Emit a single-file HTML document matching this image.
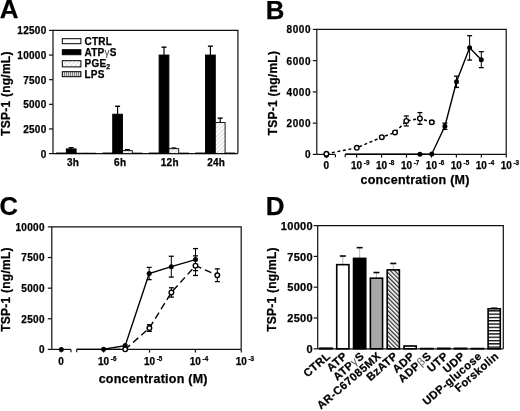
<!DOCTYPE html>
<html><head><meta charset="utf-8"><style>
html,body{margin:0;padding:0;background:#fff;width:520px;height:411px;overflow:hidden}
svg{display:block;will-change:transform}
text{stroke:#000;stroke-width:0.25px}
</style></head><body>
<svg width="520" height="411" viewBox="0 0 520 411" font-family="Liberation Sans, sans-serif" font-weight="bold">
<defs>
<pattern id="hatchA" patternUnits="userSpaceOnUse" width="3" height="3" patternTransform="rotate(45)">
<rect width="3" height="3" fill="#fff"/><line x1="0" y1="0" x2="0" y2="3" stroke="#999" stroke-width="0.8"/></pattern>
<pattern id="dotsA" patternUnits="userSpaceOnUse" width="2" height="2">
<rect width="2" height="2" fill="#f4f4f4"/><rect width="1" height="1" fill="#bbb"/></pattern>
<pattern id="vlines" patternUnits="userSpaceOnUse" width="2" height="2">
<rect width="2" height="2" fill="#ddd"/><rect width="1" height="2" fill="#888"/></pattern>
<pattern id="hatchD" patternUnits="userSpaceOnUse" width="3" height="3" patternTransform="rotate(-45)">
<rect width="3" height="3" fill="#fff"/><line x1="0.7" y1="0" x2="0.7" y2="3" stroke="#000" stroke-width="1.05"/></pattern>
<pattern id="dotsD" patternUnits="userSpaceOnUse" width="2" height="2">
<rect width="2" height="2" fill="#fff"/><rect width="1" height="1" fill="#666"/></pattern>
<pattern id="hlines" patternUnits="userSpaceOnUse" width="4" height="3.3">
<rect width="4" height="3.3" fill="#fff"/><rect width="4" height="1.3" fill="#000"/></pattern>
</defs>
<rect width="520" height="411" fill="#fff"/>
<text x="-0.20" y="18.20" font-size="26" text-anchor="start" >A</text>
<path d="M53.00,153.60 V30.40 H237.90 V153.60" stroke="#111" stroke-width="1.2" fill="none"/>
<line x1="53.00" y1="153.60" x2="237.90" y2="153.60" stroke="#111" stroke-width="1.2" />
<line x1="49.00" y1="153.60" x2="53.00" y2="153.60" stroke="#111" stroke-width="1.2" />
<text x="46.60" y="157.50" font-size="10" text-anchor="end" letter-spacing="0.3">0</text>
<line x1="49.00" y1="128.96" x2="53.00" y2="128.96" stroke="#111" stroke-width="1.2" />
<text x="46.60" y="132.86" font-size="10" text-anchor="end" letter-spacing="0.3">2500</text>
<line x1="49.00" y1="104.32" x2="53.00" y2="104.32" stroke="#111" stroke-width="1.2" />
<text x="46.60" y="108.22" font-size="10" text-anchor="end" letter-spacing="0.3">5000</text>
<line x1="49.00" y1="79.68" x2="53.00" y2="79.68" stroke="#111" stroke-width="1.2" />
<text x="46.60" y="83.58" font-size="10" text-anchor="end" letter-spacing="0.3">7500</text>
<line x1="49.00" y1="55.04" x2="53.00" y2="55.04" stroke="#111" stroke-width="1.2" />
<text x="46.60" y="58.94" font-size="10" text-anchor="end" letter-spacing="0.3">10000</text>
<line x1="49.00" y1="30.40" x2="53.00" y2="30.40" stroke="#111" stroke-width="1.2" />
<text x="46.60" y="34.30" font-size="10" text-anchor="end" letter-spacing="0.3">12500</text>
<text transform="translate(9.80,93.62) rotate(-90)" font-size="12.0" letter-spacing="0.25" text-anchor="middle">TSP-1 (ng/mL)</text>
<rect x="56.50" y="153.01" width="9.80" height="0.59" fill="#fff" stroke="#000" stroke-width="0.9"/>
<line x1="71.20" y1="147.69" x2="71.20" y2="148.87" stroke="#000" stroke-width="1.2" />
<line x1="68.70" y1="147.69" x2="73.70" y2="147.69" stroke="#000" stroke-width="1.4" />
<rect x="66.30" y="148.87" width="9.80" height="4.73" fill="#000" stroke="#000" stroke-width="0.9"/>
<rect x="76.10" y="153.21" width="9.80" height="0.39" fill="url(#hatchA)" stroke="#000" stroke-width="0.9"/>
<rect x="85.90" y="153.21" width="9.80" height="0.39" fill="url(#vlines)" stroke="#000" stroke-width="0.9"/>
<rect x="102.90" y="153.01" width="9.80" height="0.59" fill="#fff" stroke="#000" stroke-width="0.9"/>
<line x1="117.60" y1="106.29" x2="117.60" y2="114.18" stroke="#000" stroke-width="1.2" />
<line x1="115.10" y1="106.29" x2="120.10" y2="106.29" stroke="#000" stroke-width="1.4" />
<rect x="112.70" y="114.18" width="9.80" height="39.42" fill="#000" stroke="#000" stroke-width="0.9"/>
<line x1="127.40" y1="149.66" x2="127.40" y2="150.64" stroke="#000" stroke-width="1.2" />
<line x1="124.90" y1="149.66" x2="129.90" y2="149.66" stroke="#000" stroke-width="1.4" />
<rect x="122.50" y="150.64" width="9.80" height="2.96" fill="url(#hatchA)" stroke="#000" stroke-width="0.9"/>
<rect x="132.30" y="153.11" width="9.80" height="0.49" fill="url(#vlines)" stroke="#000" stroke-width="0.9"/>
<rect x="149.30" y="153.01" width="9.80" height="0.59" fill="#fff" stroke="#000" stroke-width="0.9"/>
<line x1="164.00" y1="47.16" x2="164.00" y2="55.04" stroke="#000" stroke-width="1.2" />
<line x1="161.50" y1="47.16" x2="166.50" y2="47.16" stroke="#000" stroke-width="1.4" />
<rect x="159.10" y="55.04" width="9.80" height="98.56" fill="#000" stroke="#000" stroke-width="0.9"/>
<line x1="173.80" y1="148.08" x2="173.80" y2="148.67" stroke="#000" stroke-width="1.2" />
<line x1="171.30" y1="148.08" x2="176.30" y2="148.08" stroke="#000" stroke-width="1.4" />
<rect x="168.90" y="148.67" width="9.80" height="4.93" fill="url(#hatchA)" stroke="#000" stroke-width="0.9"/>
<rect x="178.70" y="153.11" width="9.80" height="0.49" fill="url(#vlines)" stroke="#000" stroke-width="0.9"/>
<rect x="195.70" y="153.01" width="9.80" height="0.59" fill="#fff" stroke="#000" stroke-width="0.9"/>
<line x1="210.40" y1="46.17" x2="210.40" y2="55.04" stroke="#000" stroke-width="1.2" />
<line x1="207.90" y1="46.17" x2="212.90" y2="46.17" stroke="#000" stroke-width="1.4" />
<rect x="205.50" y="55.04" width="9.80" height="98.56" fill="#000" stroke="#000" stroke-width="0.9"/>
<line x1="220.20" y1="118.12" x2="220.20" y2="122.55" stroke="#000" stroke-width="1.2" />
<line x1="217.70" y1="118.12" x2="222.70" y2="118.12" stroke="#000" stroke-width="1.4" />
<rect x="215.30" y="122.55" width="9.80" height="31.05" fill="url(#hatchA)" stroke="#000" stroke-width="0.9"/>
<rect x="225.10" y="153.01" width="9.80" height="0.59" fill="url(#vlines)" stroke="#000" stroke-width="0.9"/>
<text x="73.10" y="166.30" font-size="10" text-anchor="middle" letter-spacing="0.3">3h</text>
<text x="120.20" y="166.30" font-size="10" text-anchor="middle" letter-spacing="0.3">6h</text>
<text x="169.80" y="166.30" font-size="10" text-anchor="middle" letter-spacing="0.3">12h</text>
<text x="216.20" y="166.30" font-size="10" text-anchor="middle" letter-spacing="0.3">24h</text>
<rect x="62.30" y="38.70" width="18.60" height="5.00" fill="#fff" stroke="#000" stroke-width="1"/>
<text x="84.50" y="44.80" font-size="10" text-anchor="start" letter-spacing="0.22">CTRL</text>
<rect x="62.30" y="49.70" width="18.60" height="5.00" fill="#000" stroke="#000" stroke-width="1"/>
<text x="84.50" y="55.80" font-size="10" text-anchor="start" letter-spacing="0.22">ATP<tspan font-weight="normal" fill="#444" stroke="none">&#947;</tspan>S</text>
<rect x="62.30" y="60.70" width="18.60" height="6.20" fill="url(#hatchA)" stroke="#000" stroke-width="1"/>
<text x="84.50" y="66.80" font-size="10" text-anchor="start" letter-spacing="0.22">PGE<tspan font-size="7" dy="2.5">2</tspan></text>
<rect x="62.30" y="71.70" width="18.60" height="5.00" fill="url(#vlines)" stroke="#000" stroke-width="1"/>
<text x="84.50" y="77.80" font-size="10" text-anchor="start" letter-spacing="0.22">LPS</text>
<text x="265.80" y="18.90" font-size="25.8" text-anchor="start" >B</text>
<path d="M316.8,154.4 V29.4 H506.2 V154.4" stroke="#111" stroke-width="1.2" fill="none"/>
<line x1="316.80" y1="154.40" x2="335.40" y2="154.40" stroke="#111" stroke-width="1.2" />
<line x1="345.20" y1="154.40" x2="506.20" y2="154.40" stroke="#111" stroke-width="1.2" />
<line x1="335.40" y1="154.40" x2="335.40" y2="157.20" stroke="#111" stroke-width="1.2" />
<line x1="345.20" y1="154.40" x2="345.20" y2="157.20" stroke="#111" stroke-width="1.2" />
<line x1="312.80" y1="154.40" x2="316.80" y2="154.40" stroke="#111" stroke-width="1.2" />
<text x="311.05" y="158.30" font-size="10" text-anchor="end" letter-spacing="0.55">0</text>
<line x1="312.80" y1="123.15" x2="316.80" y2="123.15" stroke="#111" stroke-width="1.2" />
<text x="311.05" y="127.05" font-size="10" text-anchor="end" letter-spacing="0.55">2000</text>
<line x1="312.80" y1="91.90" x2="316.80" y2="91.90" stroke="#111" stroke-width="1.2" />
<text x="311.05" y="95.80" font-size="10" text-anchor="end" letter-spacing="0.55">4000</text>
<line x1="312.80" y1="60.65" x2="316.80" y2="60.65" stroke="#111" stroke-width="1.2" />
<text x="311.05" y="64.55" font-size="10" text-anchor="end" letter-spacing="0.55">6000</text>
<line x1="312.80" y1="29.40" x2="316.80" y2="29.40" stroke="#111" stroke-width="1.2" />
<text x="311.05" y="33.30" font-size="10" text-anchor="end" letter-spacing="0.55">8000</text>
<text transform="translate(277.30,93.12) rotate(-90)" font-size="12.0" letter-spacing="0.25" text-anchor="middle">TSP-1 (ng/mL)</text>
<line x1="326.40" y1="154.40" x2="326.40" y2="157.40" stroke="#111" stroke-width="1.2" />
<text x="326.40" y="168.80" font-size="10" text-anchor="middle" >0</text>
<line x1="356.60" y1="154.40" x2="356.60" y2="157.60" stroke="#111" stroke-width="1.2" />
<text x="351.00" y="168.80" font-size="10" text-anchor="start" >10</text>
<text x="363.80" y="164.60" font-size="6.3" text-anchor="start" >-9</text>
<line x1="381.55" y1="154.40" x2="381.55" y2="157.60" stroke="#111" stroke-width="1.2" />
<text x="375.95" y="168.80" font-size="10" text-anchor="start" >10</text>
<text x="388.75" y="164.60" font-size="6.3" text-anchor="start" >-8</text>
<line x1="406.50" y1="154.40" x2="406.50" y2="157.60" stroke="#111" stroke-width="1.2" />
<text x="400.90" y="168.80" font-size="10" text-anchor="start" >10</text>
<text x="413.70" y="164.60" font-size="6.3" text-anchor="start" >-7</text>
<line x1="431.45" y1="154.40" x2="431.45" y2="157.60" stroke="#111" stroke-width="1.2" />
<text x="425.85" y="168.80" font-size="10" text-anchor="start" >10</text>
<text x="438.65" y="164.60" font-size="6.3" text-anchor="start" >-6</text>
<line x1="456.40" y1="154.40" x2="456.40" y2="157.60" stroke="#111" stroke-width="1.2" />
<text x="450.80" y="168.80" font-size="10" text-anchor="start" >10</text>
<text x="463.60" y="164.60" font-size="6.3" text-anchor="start" >-5</text>
<line x1="481.35" y1="154.40" x2="481.35" y2="157.60" stroke="#111" stroke-width="1.2" />
<text x="475.75" y="168.80" font-size="10" text-anchor="start" >10</text>
<text x="488.55" y="164.60" font-size="6.3" text-anchor="start" >-4</text>
<line x1="506.30" y1="154.40" x2="506.30" y2="157.60" stroke="#111" stroke-width="1.2" />
<text x="500.70" y="168.80" font-size="10" text-anchor="start" >10</text>
<text x="513.50" y="164.60" font-size="6.3" text-anchor="start" >-3</text>
<text x="415.10" y="183.80" font-size="12.5" text-anchor="middle" letter-spacing="0.25">concentration (M)</text>
<polyline points="326.40,153.78 356.80,147.81 381.80,137.21 395.00,132.43 406.30,120.96 419.90,118.46 431.80,122.24" fill="none" stroke="#000" stroke-width="1.5" stroke-dasharray="3,2.6"/>
<polyline points="345.20,154.24 419.90,154.24 431.80,153.93 444.90,126.28 456.50,81.82 469.60,47.87 481.30,59.65" fill="none" stroke="#000" stroke-width="1.4"/>
<circle cx="326.40" cy="155.20" r="2.5" fill="#000"/>
<circle cx="419.90" cy="154.24" r="2.5" fill="#000"/>
<circle cx="431.80" cy="153.93" r="2.5" fill="#000"/>
<line x1="444.90" y1="123.15" x2="444.90" y2="129.40" stroke="#000" stroke-width="1.0" />
<line x1="442.40" y1="123.15" x2="447.40" y2="123.15" stroke="#000" stroke-width="1.3" />
<line x1="442.40" y1="129.40" x2="447.40" y2="129.40" stroke="#000" stroke-width="1.3" />
<circle cx="444.90" cy="126.28" r="2.5" fill="#000"/>
<line x1="456.50" y1="76.20" x2="456.50" y2="87.45" stroke="#000" stroke-width="1.0" />
<line x1="454.00" y1="76.20" x2="459.00" y2="76.20" stroke="#000" stroke-width="1.3" />
<line x1="454.00" y1="87.45" x2="459.00" y2="87.45" stroke="#000" stroke-width="1.3" />
<circle cx="456.50" cy="81.82" r="2.5" fill="#000"/>
<line x1="469.60" y1="35.68" x2="469.60" y2="60.06" stroke="#000" stroke-width="1.0" />
<line x1="467.10" y1="35.68" x2="472.10" y2="35.68" stroke="#000" stroke-width="1.3" />
<line x1="467.10" y1="60.06" x2="472.10" y2="60.06" stroke="#000" stroke-width="1.3" />
<circle cx="469.60" cy="47.87" r="2.5" fill="#000"/>
<line x1="481.30" y1="51.68" x2="481.30" y2="67.62" stroke="#000" stroke-width="1.0" />
<line x1="478.80" y1="51.68" x2="483.80" y2="51.68" stroke="#000" stroke-width="1.3" />
<line x1="478.80" y1="67.62" x2="483.80" y2="67.62" stroke="#000" stroke-width="1.3" />
<circle cx="481.30" cy="59.65" r="2.5" fill="#000"/>
<circle cx="326.40" cy="153.78" r="2.3" fill="#fff" stroke="#000" stroke-width="1.4"/>
<circle cx="356.80" cy="147.81" r="2.3" fill="#fff" stroke="#000" stroke-width="1.4"/>
<line x1="381.80" y1="136.28" x2="381.80" y2="138.15" stroke="#000" stroke-width="1.0" />
<line x1="379.30" y1="136.28" x2="384.30" y2="136.28" stroke="#000" stroke-width="1.3" />
<line x1="379.30" y1="138.15" x2="384.30" y2="138.15" stroke="#000" stroke-width="1.3" />
<circle cx="381.80" cy="137.21" r="2.3" fill="#fff" stroke="#000" stroke-width="1.4"/>
<line x1="395.00" y1="131.49" x2="395.00" y2="133.37" stroke="#000" stroke-width="1.0" />
<line x1="392.50" y1="131.49" x2="397.50" y2="131.49" stroke="#000" stroke-width="1.3" />
<line x1="392.50" y1="133.37" x2="397.50" y2="133.37" stroke="#000" stroke-width="1.3" />
<circle cx="395.00" cy="132.43" r="2.3" fill="#fff" stroke="#000" stroke-width="1.4"/>
<line x1="406.30" y1="115.96" x2="406.30" y2="125.96" stroke="#000" stroke-width="1.0" />
<line x1="403.80" y1="115.96" x2="408.80" y2="115.96" stroke="#000" stroke-width="1.3" />
<line x1="403.80" y1="125.96" x2="408.80" y2="125.96" stroke="#000" stroke-width="1.3" />
<circle cx="406.30" cy="120.96" r="2.3" fill="#fff" stroke="#000" stroke-width="1.4"/>
<line x1="419.90" y1="112.60" x2="419.90" y2="124.32" stroke="#000" stroke-width="1.0" />
<line x1="417.40" y1="112.60" x2="422.40" y2="112.60" stroke="#000" stroke-width="1.3" />
<line x1="417.40" y1="124.32" x2="422.40" y2="124.32" stroke="#000" stroke-width="1.3" />
<circle cx="419.90" cy="118.46" r="2.3" fill="#fff" stroke="#000" stroke-width="1.4"/>
<line x1="431.80" y1="120.99" x2="431.80" y2="123.49" stroke="#000" stroke-width="1.0" />
<line x1="429.30" y1="120.99" x2="434.30" y2="120.99" stroke="#000" stroke-width="1.3" />
<line x1="429.30" y1="123.49" x2="434.30" y2="123.49" stroke="#000" stroke-width="1.3" />
<circle cx="431.80" cy="122.24" r="2.3" fill="#fff" stroke="#000" stroke-width="1.4"/>
<text x="-0.60" y="215.00" font-size="25.5" text-anchor="start" >C</text>
<path d="M51.8,349.4 V226.9 H241.2 V349.4" stroke="#111" stroke-width="1.2" fill="none"/>
<line x1="51.80" y1="349.40" x2="71.00" y2="349.40" stroke="#111" stroke-width="1.2" />
<line x1="76.70" y1="349.40" x2="241.20" y2="349.40" stroke="#111" stroke-width="1.2" />
<line x1="71.00" y1="349.40" x2="71.00" y2="352.20" stroke="#111" stroke-width="1.2" />
<line x1="76.70" y1="349.40" x2="76.70" y2="352.20" stroke="#111" stroke-width="1.2" />
<line x1="47.80" y1="349.40" x2="51.80" y2="349.40" stroke="#111" stroke-width="1.2" />
<text x="44.80" y="353.30" font-size="10" text-anchor="end" letter-spacing="0.3">0</text>
<line x1="47.80" y1="318.77" x2="51.80" y2="318.77" stroke="#111" stroke-width="1.2" />
<text x="44.80" y="322.67" font-size="10" text-anchor="end" letter-spacing="0.3">2500</text>
<line x1="47.80" y1="288.15" x2="51.80" y2="288.15" stroke="#111" stroke-width="1.2" />
<text x="44.80" y="292.05" font-size="10" text-anchor="end" letter-spacing="0.3">5000</text>
<line x1="47.80" y1="257.52" x2="51.80" y2="257.52" stroke="#111" stroke-width="1.2" />
<text x="44.80" y="261.42" font-size="10" text-anchor="end" letter-spacing="0.3">7500</text>
<line x1="47.80" y1="226.90" x2="51.80" y2="226.90" stroke="#111" stroke-width="1.2" />
<text x="44.80" y="230.80" font-size="10" text-anchor="end" letter-spacing="0.3">10000</text>
<text transform="translate(10.30,289.52) rotate(-90)" font-size="12.0" letter-spacing="0.25" text-anchor="middle">TSP-1 (ng/mL)</text>
<line x1="61.30" y1="349.40" x2="61.30" y2="352.40" stroke="#111" stroke-width="1.2" />
<text x="61.00" y="364.90" font-size="10" text-anchor="middle" >0</text>
<line x1="103.60" y1="349.40" x2="103.60" y2="352.60" stroke="#111" stroke-width="1.2" />
<text x="98.00" y="364.90" font-size="10" text-anchor="start" >10</text>
<text x="110.80" y="360.70" font-size="6.3" text-anchor="start" >-6</text>
<line x1="149.50" y1="349.40" x2="149.50" y2="352.60" stroke="#111" stroke-width="1.2" />
<text x="143.90" y="364.90" font-size="10" text-anchor="start" >10</text>
<text x="156.70" y="360.70" font-size="6.3" text-anchor="start" >-5</text>
<line x1="195.40" y1="349.40" x2="195.40" y2="352.60" stroke="#111" stroke-width="1.2" />
<text x="189.80" y="364.90" font-size="10" text-anchor="start" >10</text>
<text x="202.60" y="360.70" font-size="6.3" text-anchor="start" >-4</text>
<line x1="241.30" y1="349.40" x2="241.30" y2="352.60" stroke="#111" stroke-width="1.2" />
<text x="235.70" y="364.90" font-size="10" text-anchor="start" >10</text>
<text x="248.50" y="360.70" font-size="6.3" text-anchor="start" >-3</text>
<text x="153.20" y="382.60" font-size="12.5" text-anchor="middle" letter-spacing="0.25">concentration (M)</text>
<polyline points="76.70,349.34 103.60,349.28 125.20,345.60 149.20,273.51 171.30,266.66 195.50,259.61" fill="none" stroke="#000" stroke-width="1.4"/>
<polyline points="103.60,349.34 125.20,349.34 149.40,328.06 171.40,292.44 195.50,265.66 217.30,275.23" fill="none" stroke="#000" stroke-width="1.4" stroke-dasharray="7,4" stroke-dashoffset="1"/>
<circle cx="61.30" cy="349.40" r="2.5" fill="#000"/>
<circle cx="103.60" cy="349.28" r="2.5" fill="#000"/>
<circle cx="125.20" cy="345.60" r="2.5" fill="#000"/>
<line x1="149.20" y1="267.39" x2="149.20" y2="279.64" stroke="#000" stroke-width="1.0" />
<line x1="146.70" y1="267.39" x2="151.70" y2="267.39" stroke="#000" stroke-width="1.3" />
<line x1="146.70" y1="279.64" x2="151.70" y2="279.64" stroke="#000" stroke-width="1.3" />
<circle cx="149.20" cy="273.51" r="2.5" fill="#000"/>
<line x1="171.30" y1="256.25" x2="171.30" y2="277.08" stroke="#000" stroke-width="1.0" />
<line x1="168.80" y1="256.25" x2="173.80" y2="256.25" stroke="#000" stroke-width="1.3" />
<line x1="168.80" y1="277.08" x2="173.80" y2="277.08" stroke="#000" stroke-width="1.3" />
<circle cx="171.30" cy="266.66" r="2.5" fill="#000"/>
<line x1="195.50" y1="248.58" x2="195.50" y2="270.63" stroke="#000" stroke-width="1.0" />
<line x1="193.00" y1="248.58" x2="198.00" y2="248.58" stroke="#000" stroke-width="1.3" />
<line x1="193.00" y1="270.63" x2="198.00" y2="270.63" stroke="#000" stroke-width="1.3" />
<circle cx="195.50" cy="259.61" r="2.5" fill="#000"/>
<line x1="149.40" y1="324.75" x2="149.40" y2="331.37" stroke="#000" stroke-width="1.0" />
<line x1="146.90" y1="324.75" x2="151.90" y2="324.75" stroke="#000" stroke-width="1.3" />
<line x1="146.90" y1="331.37" x2="151.90" y2="331.37" stroke="#000" stroke-width="1.3" />
<line x1="171.40" y1="287.78" x2="171.40" y2="297.09" stroke="#000" stroke-width="1.0" />
<line x1="168.90" y1="287.78" x2="173.90" y2="287.78" stroke="#000" stroke-width="1.3" />
<line x1="168.90" y1="297.09" x2="173.90" y2="297.09" stroke="#000" stroke-width="1.3" />
<line x1="195.50" y1="255.86" x2="195.50" y2="275.46" stroke="#000" stroke-width="1.0" />
<line x1="193.00" y1="255.86" x2="198.00" y2="255.86" stroke="#000" stroke-width="1.3" />
<line x1="193.00" y1="275.46" x2="198.00" y2="275.46" stroke="#000" stroke-width="1.3" />
<line x1="217.30" y1="268.86" x2="217.30" y2="281.60" stroke="#000" stroke-width="1.0" />
<line x1="214.80" y1="268.86" x2="219.80" y2="268.86" stroke="#000" stroke-width="1.3" />
<line x1="214.80" y1="281.60" x2="219.80" y2="281.60" stroke="#000" stroke-width="1.3" />
<circle cx="125.20" cy="349.34" r="2.3" fill="#fff" stroke="#000" stroke-width="1.4"/>
<circle cx="149.40" cy="328.06" r="2.3" fill="#fff" stroke="#000" stroke-width="1.4"/>
<circle cx="171.40" cy="292.44" r="2.3" fill="#fff" stroke="#000" stroke-width="1.4"/>
<circle cx="195.50" cy="265.66" r="2.3" fill="#fff" stroke="#000" stroke-width="1.4"/>
<circle cx="217.30" cy="275.23" r="2.3" fill="#fff" stroke="#000" stroke-width="1.4"/>
<text x="265.70" y="215.00" font-size="26" text-anchor="start" >D</text>
<path d="M317.70,348.80 V225.60 H503.30 V348.80" stroke="#111" stroke-width="1.2" fill="none"/>
<line x1="317.70" y1="348.80" x2="503.30" y2="348.80" stroke="#111" stroke-width="1.2" />
<line x1="313.70" y1="348.80" x2="317.70" y2="348.80" stroke="#111" stroke-width="1.2" />
<text x="312.90" y="353.09" font-size="11" text-anchor="end" letter-spacing="0.3">0</text>
<line x1="313.70" y1="318.00" x2="317.70" y2="318.00" stroke="#111" stroke-width="1.2" />
<text x="312.90" y="322.29" font-size="11" text-anchor="end" letter-spacing="0.3">2500</text>
<line x1="313.70" y1="287.20" x2="317.70" y2="287.20" stroke="#111" stroke-width="1.2" />
<text x="312.90" y="291.49" font-size="11" text-anchor="end" letter-spacing="0.3">5000</text>
<line x1="313.70" y1="256.40" x2="317.70" y2="256.40" stroke="#111" stroke-width="1.2" />
<text x="312.90" y="260.69" font-size="11" text-anchor="end" letter-spacing="0.3">7500</text>
<line x1="313.70" y1="225.60" x2="317.70" y2="225.60" stroke="#111" stroke-width="1.2" />
<text x="312.90" y="229.89" font-size="11" text-anchor="end" letter-spacing="0.3">10000</text>
<text transform="translate(276.20,289.52) rotate(-90)" font-size="12.0" letter-spacing="0.25" text-anchor="middle">TSP-1 (ng/mL)</text>
<rect x="319.90" y="348.18" width="12.20" height="0.62" fill="#fff" stroke="#000" stroke-width="1.6"/>
<text transform="translate(331.20,357.20) rotate(-41)" font-size="11.2" letter-spacing="0.4" text-anchor="end">CTRL</text>
<line x1="342.82" y1="256.03" x2="342.82" y2="264.65" stroke="#999" stroke-width="0.7" />
<line x1="339.82" y1="256.03" x2="345.82" y2="256.03" stroke="#000" stroke-width="1.6" />
<rect x="336.72" y="264.65" width="12.20" height="84.15" fill="#fff" stroke="#000" stroke-width="1.6"/>
<text transform="translate(348.02,357.20) rotate(-41)" font-size="11.2" letter-spacing="0.4" text-anchor="end">ATP</text>
<line x1="359.64" y1="247.65" x2="359.64" y2="258.37" stroke="#999" stroke-width="0.7" />
<line x1="356.64" y1="247.65" x2="362.64" y2="247.65" stroke="#000" stroke-width="1.6" />
<rect x="353.54" y="258.37" width="12.20" height="90.43" fill="#000" stroke="#000" stroke-width="1.6"/>
<text transform="translate(364.84,357.20) rotate(-41)" font-size="11.2" letter-spacing="0.4" text-anchor="end">ATP<tspan font-weight="normal" fill="#555" stroke="none">&#947;</tspan>S</text>
<line x1="376.46" y1="272.53" x2="376.46" y2="278.19" stroke="#999" stroke-width="0.7" />
<line x1="373.46" y1="272.53" x2="379.46" y2="272.53" stroke="#000" stroke-width="1.6" />
<rect x="370.36" y="278.19" width="12.20" height="70.61" fill="#a8a8a8" stroke="#000" stroke-width="1.6"/>
<text transform="translate(381.66,357.20) rotate(-41)" font-size="11.2" letter-spacing="0.4" text-anchor="end">AR-C67085MX</text>
<line x1="393.28" y1="263.46" x2="393.28" y2="269.87" stroke="#999" stroke-width="0.7" />
<line x1="390.28" y1="263.46" x2="396.28" y2="263.46" stroke="#000" stroke-width="1.6" />
<rect x="387.18" y="269.87" width="12.20" height="78.93" fill="url(#hatchD)" stroke="#000" stroke-width="1.6"/>
<text transform="translate(398.48,357.20) rotate(-41)" font-size="11.2" letter-spacing="0.4" text-anchor="end">BzATP</text>
<rect x="404.00" y="345.97" width="12.20" height="2.83" fill="url(#dotsD)" stroke="#000" stroke-width="1.6"/>
<text transform="translate(415.30,357.20) rotate(-41)" font-size="11.2" letter-spacing="0.4" text-anchor="end">ADP</text>
<rect x="420.82" y="348.55" width="12.20" height="0.25" fill="#fff" stroke="#000" stroke-width="1.6"/>
<text transform="translate(432.12,357.20) rotate(-41)" font-size="11.2" letter-spacing="0.4" text-anchor="end">ADP<tspan font-weight="normal" fill="#555" stroke="none">&#946;</tspan>S</text>
<rect x="437.64" y="348.31" width="12.20" height="0.49" fill="#fff" stroke="#000" stroke-width="1.6"/>
<text transform="translate(448.94,357.20) rotate(-41)" font-size="11.2" letter-spacing="0.4" text-anchor="end">UTP</text>
<rect x="454.46" y="348.31" width="12.20" height="0.49" fill="#fff" stroke="#000" stroke-width="1.6"/>
<text transform="translate(465.76,357.20) rotate(-41)" font-size="11.2" letter-spacing="0.4" text-anchor="end">UDP</text>
<rect x="471.28" y="348.55" width="12.20" height="0.25" fill="#fff" stroke="#000" stroke-width="1.6"/>
<text transform="translate(482.58,357.20) rotate(-41)" font-size="11.2" letter-spacing="0.4" text-anchor="end">UDP-glucose</text>
<line x1="494.20" y1="308.27" x2="494.20" y2="308.76" stroke="#999" stroke-width="0.7" />
<line x1="491.20" y1="308.27" x2="497.20" y2="308.27" stroke="#000" stroke-width="1.6" />
<rect x="488.10" y="308.76" width="12.20" height="40.04" fill="url(#hlines)" stroke="#000" stroke-width="1.6"/>
<text transform="translate(499.40,357.20) rotate(-41)" font-size="11.2" letter-spacing="0.4" text-anchor="end">Forskolin</text>
</svg>
</body></html>
